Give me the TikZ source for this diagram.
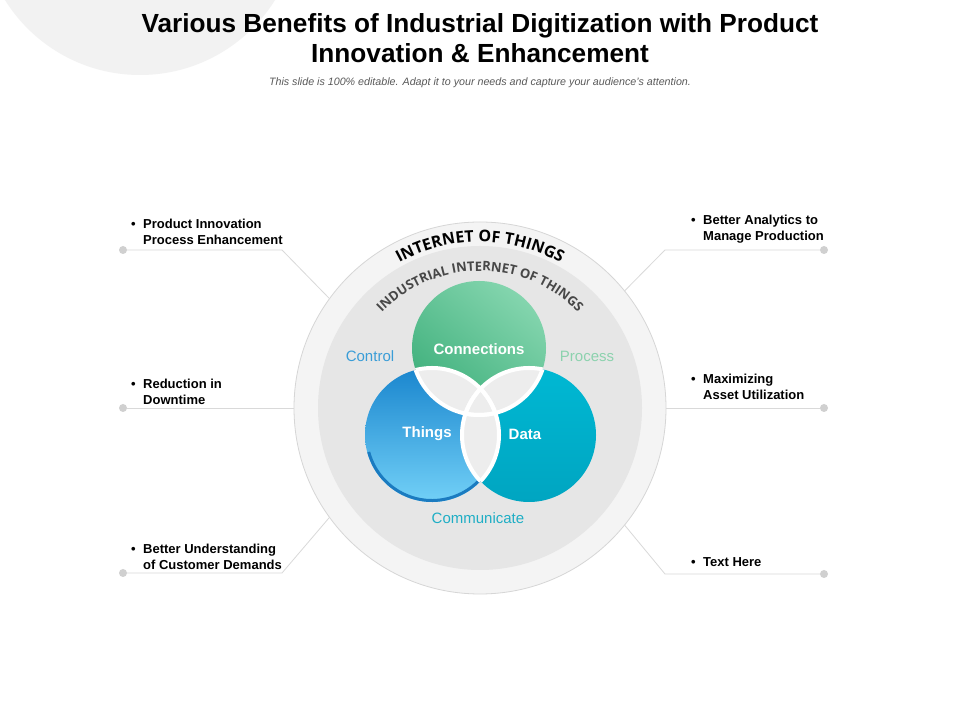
\documentclass[tikz,border=0pt]{standalone}
\usepackage{fontspec}
\setmainfont{Liberation Sans}
\newfontfamily\osans{Open Sans}
\usepackage{tikz}
\usetikzlibrary{positioning,decorations.text}
\definecolor{bggray}{HTML}{F2F2F2}
\definecolor{ringgray}{HTML}{F4F4F4}
\definecolor{ringedge}{HTML}{D6D6D6}
\definecolor{diskgray}{HTML}{E6E6E6}
\definecolor{lensgray}{HTML}{EDEDED}
\definecolor{greendark}{HTML}{3FB07C}
\definecolor{greenlight}{HTML}{84D5AE}
\definecolor{bluetop}{HTML}{1A86CE}
\definecolor{bluebot}{HTML}{72D0F7}
\definecolor{bluerim}{HTML}{1B7BC0}
\definecolor{tealtop}{HTML}{00B8D3}
\definecolor{tealbot}{HTML}{00A5C1}
\definecolor{ctrlblue}{HTML}{3A9DD7}
\definecolor{procgreen}{HTML}{8CD2AE}
\definecolor{commteal}{HTML}{1FAEC5}
\definecolor{innertext}{HTML}{474747}
\definecolor{linegray}{HTML}{D9D9D9}
\definecolor{dotgray}{HTML}{D0D0D0}
\definecolor{subgray}{HTML}{595959}
\newcommand{\bl}{\makebox[12bp][l]{\textbullet}}
\newcommand{\ind}{\hspace*{12bp}}

\begin{document}
\begin{tikzpicture}[x=1bp,y=1bp,
 pt/.style={align=left,anchor=base west,inner sep=0pt,font=\fontsize{13bp}{16bp}\selectfont\bfseries},
 ln/.style={draw=linegray,line width=0.8bp},
 dot/.style={circle,fill=dotgray,inner sep=0pt,minimum size=8bp},
 lbl/.style={font=\fontsize{15bp}{18bp}\selectfont},
 vt/.style={text=white,font=\fontsize{15bp}{18bp}\selectfont\bfseries},
 ttl/.style={anchor=base,inner sep=0pt,font=\fontsize{26.2bp}{30bp}\selectfont\bfseries}]
\useasboundingbox (0,0) rectangle (960,720);
\fill[white] (0,0) rectangle (960,720);
\begin{scope}
\clip (0,0) rectangle (960,720);
\fill[bggray] (140,804) circle[radius=159];
\end{scope}
% title
\node[ttl] (t1) at (480,687) {Various Benefits of Industrial Digitization with Product};
\node[ttl] (t2) at (480,657) {Innovation \& Enhancement};
\node[anchor=base,inner sep=0pt,text=subgray,font=\fontsize{10.7bp}{12bp}\selectfont\itshape] (sub) at (480,634)
 {This slide is 100\% editable. Adapt it to your needs and capture your audience's attention.};
% rings
\coordinate (C) at (480,312);
\node[circle,minimum size=372bp,inner sep=0pt,outer sep=0pt,fill=ringgray,draw=ringedge,line width=0.8bp] (ring) at (C) {};
\node[circle,minimum size=324bp,inner sep=0pt,outer sep=0pt,fill=diskgray] (disk) at (C) {};
\path[decorate,decoration={text along path,text align=center,
 text={|\osans\bfseries\fontsize{16bp}{16bp}\selectfont|INTERNET OF THINGS}}]
 ([shift={(128:166)}]C) arc[start angle=128,end angle=52,radius=166];
\path[decorate,decoration={text along path,text align=center,
 text={|\color{innertext}\osans\bfseries\fontsize{13bp}{14bp}\selectfont|INDUSTRIAL INTERNET OF THINGS}}]
 ([shift={(140:137)}]C) arc[start angle=140,end angle=40,radius=137];
% venn
\coordinate (cT) at (479,372);
\coordinate (cL) at (432,285);
\coordinate (cR) at (529,285);
\shade[top color=bluetop,bottom color=bluebot] (cL) circle[radius=67];
\draw[bluerim,line width=3bp] ([shift={(195:65.5)}]cL) arc[start angle=195,end angle=320,radius=65.5];
\shade[top color=tealtop,bottom color=tealbot] (cR) circle[radius=67];
\shade[top color=greenlight,bottom color=greendark,shading angle=-40] (cT) circle[radius=67];
\begin{scope}
\clip (cT) circle[radius=67];
\fill[lensgray] (cL) circle[radius=67];
\fill[lensgray] (cR) circle[radius=67];
\end{scope}
\begin{scope}
\clip (cL) circle[radius=67];
\fill[lensgray] (cR) circle[radius=67];
\end{scope}
\foreach \a/\b in {cT/cL,cL/cT,cT/cR,cR/cT,cL/cR,cR/cL}{
 \begin{scope}
 \clip (\a) circle[radius=67];
 \draw[white,line width=4bp] (\b) circle[radius=67];
 \end{scope}}
\node[vt] (con) at (479,371) {Connections};
\node[vt] (thg) at (427,286) {Things};
\node[vt] (dat) at (525,286) {Data};
\node[lbl,text=ctrlblue] (ctl) at (370,364) {Control};
\node[lbl,text=procgreen] (prc) at (587,364) {Process};
\node[lbl,text=commteal] (com) at (478,202) {Communicate};
% left side
\node[dot] (d1) at (123,470) {};
\node[dot] (d2) at (123,312) {};
\node[dot] (d3) at (123,147) {};
\coordinate (k1) at (282,470);
\coordinate (k3) at (282,147);
\draw[ln] (d1)--(k1)--(ring.144);
\draw[ln] (d2)--(ring.west);
\draw[ln] (d3)--(k3)--(ring.216);
\node[pt] (p1) at (131,475) {\bl Product Innovation\\\ind Process Enhancement};
\node[pt] (p2) at (131,315) {\bl Reduction in\\\ind Downtime};
\node[pt] (p3) at (131,150) {\bl Better Understanding\\\ind of Customer Demands};
% right side
\node[dot] (d4) at (824,470) {};
\node[dot] (d5) at (824,312) {};
\node[dot] (d6) at (824,146) {};
\coordinate (k4) at (665,470);
\coordinate (k6) at (665,146);
\draw[ln] (d4)--(k4)--(ring.39);
\draw[ln] (d5)--(ring.east);
\draw[ln] (d6)--(k6)--(ring.-39);
\node[pt] (p4) at (691,479) {\bl Better Analytics to\\\ind Manage Production};
\node[pt] (p5) at (691,320) {\bl Maximizing\\\ind Asset Utilization};
\node[pt] (p6) at (691,153) {\bl Text Here};
\end{tikzpicture}
\end{document}
